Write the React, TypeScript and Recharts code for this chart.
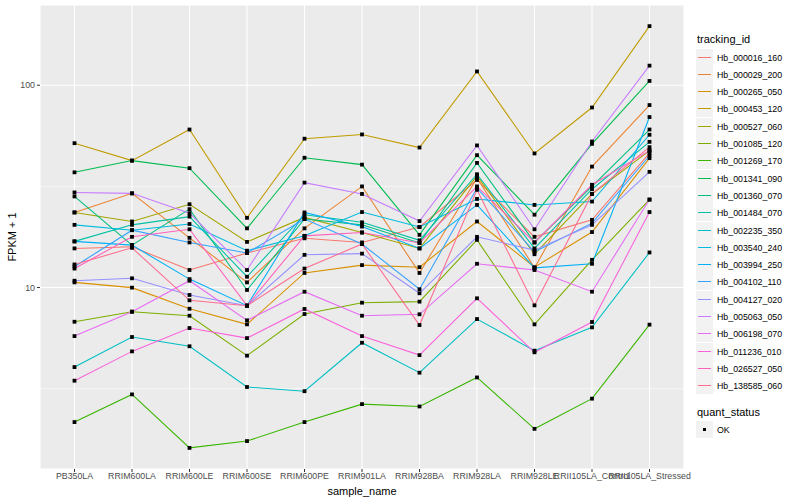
import React from "react";
import {
  CartesianGrid,
  Line,
  LineChart,
  ReferenceLine,
  XAxis,
  YAxis,
} from "recharts";

// ggplot2 風の色（hue_pal 20色）
const COLOR_PANEL = "#EBEBEB";
const COLOR_AXIS_TEXT = "#4D4D4D";
const COLOR_TICK = "#333333";
const FONT = "'Liberation Sans', Arial, sans-serif";

const samples = [
  "PB350LA",
  "RRIM600LA",
  "RRIM600LE",
  "RRIM600SE",
  "RRIM600PE",
  "RRIM901LA",
  "RRIM928BA",
  "RRIM928LA",
  "RRIM928LE",
  "RRII105LA_Control",
  "RRII105LA_Stressed",
];

const trackingIds = [
  "Hb_000016_160",
  "Hb_000029_200",
  "Hb_000265_050",
  "Hb_000453_120",
  "Hb_000527_060",
  "Hb_001085_120",
  "Hb_001269_170",
  "Hb_001341_090",
  "Hb_001360_070",
  "Hb_001484_070",
  "Hb_002235_350",
  "Hb_003540_240",
  "Hb_003994_250",
  "Hb_004102_110",
  "Hb_004127_020",
  "Hb_005063_050",
  "Hb_006198_070",
  "Hb_011236_010",
  "Hb_026527_050",
  "Hb_138585_060",
];

const colors = [
  "#F8766D", "#EA8331", "#D89000", "#C09B00", "#A3A500",
  "#7CAE00", "#39B600", "#00BB4E", "#00BF7D", "#00C1A3",
  "#00BFC4", "#00BAE0", "#00B0F6", "#35A2FF", "#9590FF",
  "#C77CFF", "#E76BF3", "#FA62DB", "#FF62BC", "#FF6C91",
];

// FPKM + 1（サンプル順）
const hb000016_160 = [15.6, 15.9, 12.2, 14.8, 17.5, 16.7, 19.9, 34.0, 17.8, 21.6, 46.2];
const hb000029_200 = [23.5, 29.2, 17.6, 10.6, 19.6, 31.6, 11.8, 34.8, 12.5, 39.6, 79.8];
const hb000265_050 = [10.6, 9.98, 7.85, 6.57, 11.8, 12.9, 12.6, 21.2, 12.6, 18.8, 43.6];
const hb000453_120 = [51.7, 42.4, 60.4, 22.1, 54.4, 57.1, 49.2, 117, 46.0, 77.6, 196];
const hb000527_060 = [23.5, 21.2, 25.8, 16.8, 22.2, 18.7, 15.6, 35.6, 14.6, 29.0, 47.5];
const hb001085_120 = [6.77, 7.59, 7.25, 4.6, 7.39, 8.41, 8.51, 17.2, 6.57, 13.7, 27.2];
const hb001269_170 = [2.16, 2.96, 1.61, 1.74, 2.16, 2.65, 2.58, 3.59, 2.0, 2.82, 6.55];
const hb001341_090 = [37.1, 42.4, 38.9, 19.6, 43.8, 40.5, 18.2, 45.1, 22.9, 51.3, 105];
const hb001360_070 = [28.2, 16.2, 24.4, 9.72, 21.8, 20.4, 16.6, 41.3, 16.7, 31.6, 60.4];
const hb001484_070 = [16.9, 20.4, 22.4, 11.3, 22.9, 21.0, 17.1, 36.3, 15.6, 30.6, 52.5];
const hb002235_350 = [4.04, 5.69, 5.12, 3.22, 3.07, 5.33, 3.79, 6.98, 4.87, 6.35, 14.9];
const hb003540_240 = [20.4, 19.2, 20.6, 15.2, 18.0, 23.6, 19.9, 27.4, 25.6, 26.6, 56.9];
const hb003994_250 = [16.9, 16.2, 11.0, 8.13, 23.5, 20.0, 15.6, 25.6, 12.5, 13.1, 69.6];
const hb004102_110 = [12.7, 19.2, 16.7, 14.8, 21.8, 16.4, 9.8, 31.0, 15.0, 20.8, 44.8];
const hb004127_020 = [10.8, 11.1, 9.18, 8.13, 14.5, 14.7, 9.36, 17.8, 15.3, 20.4, 37.3];
const hb005063_050 = [29.5, 29.2, 23.3, 12.2, 33.0, 29.0, 21.3, 50.4, 19.4, 52.7, 125];
const hb006198_070 = [5.75, 7.59, 10.8, 6.88, 9.53, 7.25, 7.37, 13.1, 12.2, 9.53, 27.2];
const hb011236_010 = [3.46, 4.83, 6.3, 5.62, 7.83, 5.75, 4.63, 8.84, 4.78, 6.75, 23.6];
const hb026527_050 = [12.4, 17.8, 19.4, 8.13, 18.0, 18.7, 16.6, 31.6, 16.7, 32.2, 47.5];
const hb138585_060 = [13.0, 15.7, 8.64, 8.13, 12.4, 16.4, 6.52, 30.4, 8.16, 29.0, 49.4];

const seriesValues = [
  hb000016_160, hb000029_200, hb000265_050, hb000453_120, hb000527_060,
  hb001085_120, hb001269_170, hb001341_090, hb001360_070, hb001484_070,
  hb002235_350, hb003540_240, hb003994_250, hb004102_110, hb004127_020,
  hb005063_050, hb006198_070, hb011236_010, hb026527_050, hb138585_060,
];

const yMajorTicks = [10, 100];
const yMinorTicks = [3.162, 31.62];
const yDomain = [1.266, 249.3];

const quantStatus = ["OK"];

const data = samples.map((s, i) => {
  const row: Record<string, string | number> = { sample_name: s };
  trackingIds.forEach((id, j) => {
    row[id] = seriesValues[j][i];
  });
  return row;
});

function SquareDot(props: any) {
  const { cx, cy, index, dataKey } = props;
  if (cx == null || cy == null) return null;
  return (
    <rect
      key={`${dataKey}-${index}`}
      x={cx - 1.9}
      y={cy - 1.9}
      width={3.8}
      height={3.8}
      fill="#000"
    />
  );
}

function LegendPanel() {
  return (
    <div style={{ position: "absolute", left: 696, top: 0, fontFamily: FONT }}>
      <div style={{ position: "absolute", top: 33, left: 1, fontSize: 11, whiteSpace: "nowrap", color: "#000" }}>
        tracking_id
      </div>
      {trackingIds.map((id, i) => (
        <div key={id} style={{ position: "absolute", top: Math.round(48.5 + i * 17.3), left: 0, height: 17, whiteSpace: "nowrap" }}>
          <div style={{ position: "absolute", left: 0, top: 0, width: 17, height: 17, background: "#F2F2F2" }}>
            <div style={{ position: "absolute", left: 2, top: 8, width: 13, height: 1.4, background: colors[i] }} />
          </div>
          <div style={{ position: "absolute", left: 21, top: 4, fontSize: 8.8, color: "#000" }}>{id}</div>
        </div>
      ))}
      <div style={{ position: "absolute", top: 406, left: 1, fontSize: 11, whiteSpace: "nowrap", color: "#000" }}>
        quant_status
      </div>
      {quantStatus.map((q, i) => (
        <div key={q} style={{ position: "absolute", top: 421 + i * 17, left: 0, height: 17, whiteSpace: "nowrap" }}>
          <div style={{ position: "absolute", left: 0, top: 0, width: 17, height: 17, background: "#F2F2F2" }}>
            <div style={{ position: "absolute", left: 6.6, top: 6.6, width: 3.8, height: 3.8, background: "#000" }} />
          </div>
          <div style={{ position: "absolute", left: 21, top: 4, fontSize: 8.8, color: "#000" }}>{q}</div>
        </div>
      ))}
    </div>
  );
}

export default function App() {
  return (
    <div style={{ position: "absolute", left: 0, top: 0, width: 800, height: 500, background: "#fff", fontFamily: FONT }}>
      <LineChart width={800} height={500} data={data} margin={{ top: 5, right: 116, bottom: 0, left: 0 }}>
        <CartesianGrid fill={COLOR_PANEL} stroke="#fff" strokeWidth={1.1} />
        {yMinorTicks.map((v) => (
          <ReferenceLine key={v} y={v} stroke="#fff" strokeWidth={0.55} />
        ))}
        <XAxis
          dataKey="sample_name"
          interval={0}
          height={31}
          padding={{ left: 34.5, right: 34.5 }}
          axisLine={false}
          tickSize={3}
          tickMargin={1}
          tickLine={{ stroke: COLOR_TICK }}
          tick={{ fill: COLOR_AXIS_TEXT, fontSize: 8.8, fontFamily: FONT }}
          label={{ value: "sample_name", position: "insideBottom", offset: 5, fill: "#000", fontSize: 11, fontFamily: FONT }}
        />
        <YAxis
          type="number"
          scale="log"
          domain={yDomain}
          allowDataOverflow
          ticks={yMajorTicks}
          width={40}
          axisLine={false}
          tickSize={3}
          tickMargin={2}
          tickLine={{ stroke: COLOR_TICK }}
          tick={{ fill: COLOR_AXIS_TEXT, fontSize: 8.8, fontFamily: FONT }}
          label={{
            value: "FPKM + 1",
            angle: -90,
            position: "insideLeft",
            offset: 12,
            fill: "#000",
            fontSize: 11,
            fontFamily: FONT,
            style: { textAnchor: "middle" },
          }}
        />
        {trackingIds.map((id, i) => (
          <Line
            key={id}
            dataKey={id}
            stroke={colors[i]}
            strokeWidth={1.07}
            dot={false}
            activeDot={false}
            type="linear"
            isAnimationActive={false}
          />
        ))}
        {trackingIds.map((id) => (
          <Line
            key={`${id}-pt`}
            dataKey={id}
            stroke="none"
            dot={SquareDot}
            activeDot={false}
            type="linear"
            isAnimationActive={false}
          />
        ))}
      </LineChart>
      <LegendPanel />
    </div>
  );
}
